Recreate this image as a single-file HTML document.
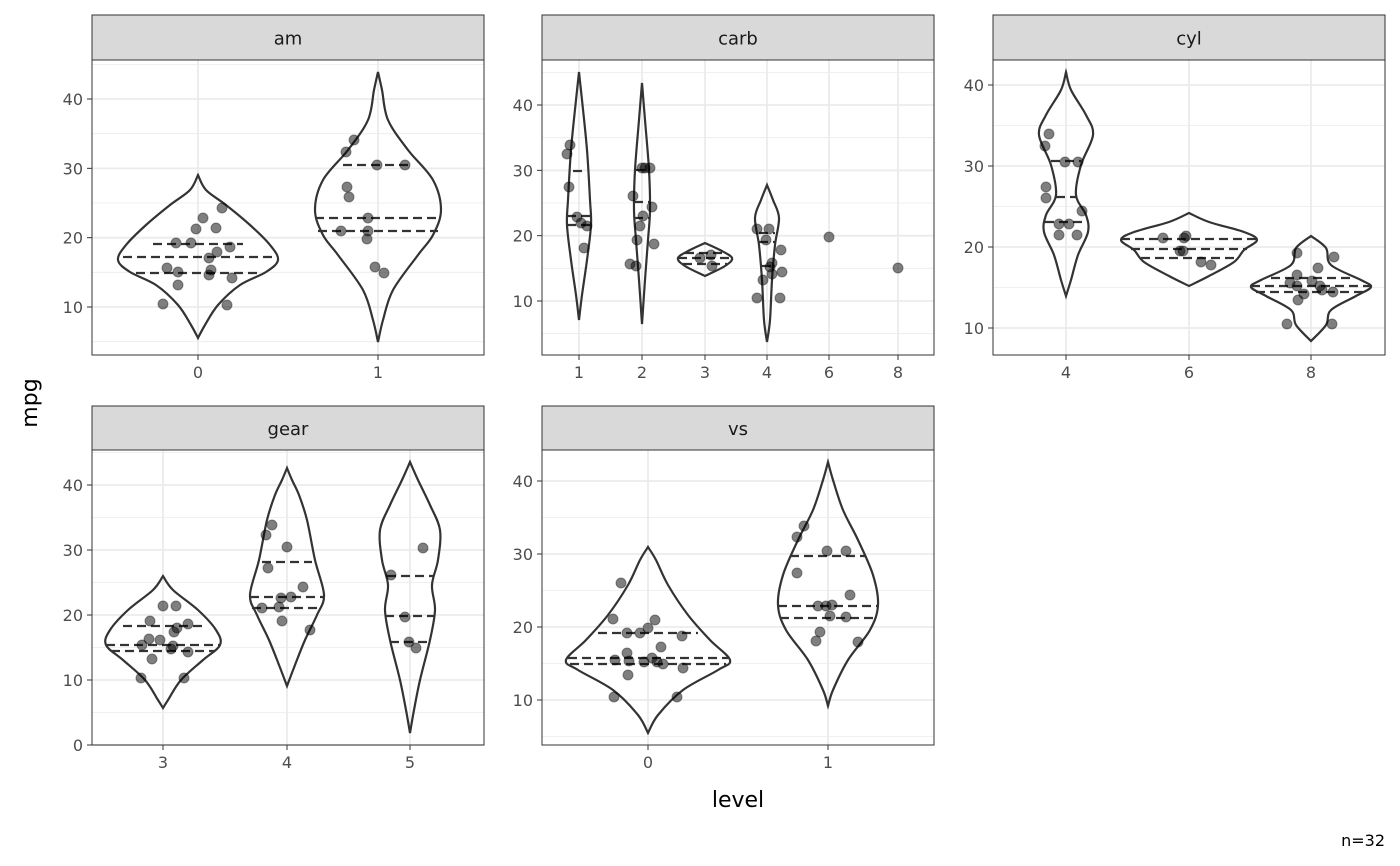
<!DOCTYPE html>
<html><head><meta charset="utf-8"><style>
body{margin:0;background:#fff;}
svg{display:block;font-family:"DejaVu Sans","Liberation Sans",sans-serif;}
</style></head><body>
<svg id="s" width="1400" height="866" xmlns="http://www.w3.org/2000/svg"></svg>
<script>
const S=document.getElementById('s');let h='';
function panel(x0,x1,sy0,py0,py1,title,yf,majors,minors,xt){
  h+=`<rect x="${x0}" y="${py0}" width="${x1-x0}" height="${py1-py0}" fill="#fff"/>`;
  minors.forEach(v=>{const y=yf(v);if(y>py0&&y<py1)h+=`<line x1="${x0}" x2="${x1}" y1="${y}" y2="${y}" stroke="#ebebeb" stroke-width="0.8"/>`;});
  majors.forEach(v=>{const y=yf(v);h+=`<line x1="${x0}" x2="${x1}" y1="${y}" y2="${y}" stroke="#ebebeb" stroke-width="1.8"/>`;
    h+=`<line x1="${x0-5}" x2="${x0}" y1="${y}" y2="${y}" stroke="#333" stroke-width="1"/><text x="${x0-9}" y="${y+6}" font-size="16" fill="#4d4d4d" text-anchor="end">${v}</text>`;});
  xt.forEach(([l,x])=>{h+=`<line x1="${x}" x2="${x}" y1="${py0}" y2="${py1}" stroke="#ebebeb" stroke-width="1.8"/>`;
    h+=`<line x1="${x}" x2="${x}" y1="${py1}" y2="${py1+5}" stroke="#333"/><text x="${x}" y="${py1+23}" font-size="16" fill="#4d4d4d" text-anchor="middle">${l}</text>`;});
  h+=`<rect x="${x0}" y="${sy0}" width="${x1-x0}" height="${py0-sy0}" fill="#d9d9d9" stroke="#333" stroke-width="1"/>`;
  h+=`<text x="${(x0+x1)/2}" y="${(sy0+py0)/2+7}" font-size="18" fill="#1a1a1a" text-anchor="middle">${title}</text>`;
}
function smooth(pts){let d=`M${pts[0][0]},${pts[0][1]}`;
  for(let i=0;i<pts.length-1;i++){const p0=pts[Math.max(i-1,0)],p1=pts[i],p2=pts[i+1],p3=pts[Math.min(i+2,pts.length-1)];
    d+=` C${p1[0]+(p2[0]-p0[0])/6},${p1[1]+(p2[1]-p0[1])/6} ${p2[0]-(p3[0]-p1[0])/6},${p2[1]-(p3[1]-p1[1])/6} ${p2[0]},${p2[1]}`;}
  return d;}
function violin(cx,spec,q){
  const r=spec.map(([y,w])=>[cx+w,y]);const l=spec.slice().reverse().map(([y,w])=>[cx-w,y]);
  h+=`<path d="${smooth(r)} ${smooth(l).replace('M','L')} Z" fill="none" stroke="#333" stroke-width="2.2"/>`;
  q.forEach(([y,w])=>{h+=`<line x1="${cx-w}" x2="${cx+w}" y1="${y}" y2="${y}" stroke="#333" stroke-width="2.2" stroke-dasharray="9,5"/>`;});
}
function pts(a){a.forEach(([x,y])=>h+=`<circle cx="${x}" cy="${y}" r="5" fill="#000" fill-opacity="0.5" stroke="#000" stroke-opacity="0.4"/>`);}
const mj=[10,20,30,40],mn=[5,15,25,35,45];
const am=v=>307-(v-10)*6.933,cb=v=>301-(v-10)*6.533,cy=v=>328-(v-10)*8.1,gr=v=>745-v*6.5,vs=v=>700-(v-10)*7.3;
panel(92,484,15,60,355,'am',am,mj,mn,[['0',198],['1',378]]);
panel(542,934,15,60,355,'carb',cb,mj,mn,[['1',579],['2',642],['3',705],['4',767],['6',829],['8',898]]);
panel(993,1385,15,60,355,'cyl',cy,mj,mn,[['4',1066],['6',1189],['8',1311]]);
panel(92,484,406,450,745,'gear',gr,[0,10,20,30,40],mn,[['3',163],['4',287],['5',410]]);
panel(542,934,406,450,745,'vs',vs,mj,mn,[['0',648],['1',828]]);
violin(198,[[175,0],[190,8],[205,28],[225,52],[245,72],[260,80],[272,68],[285,42],[305,20],[325,7],[338,0]],[[244,45],[257,75],[273,62]]);
violin(378,[[72,0],[90,4],[120,10],[150,30],[180,55],[210,63],[235,55],[255,40],[290,15],[320,5],[342,0]],[[165,35],[218,63],[231,60]]);
violin(579,[[72,0],[100,3],[150,8],[200,11],[225,12],[260,8],[295,3],[320,0]],[[171,6],[216,12],[225,12]]);
violin(642,[[83,0],[120,3],[170,7],[210,8],[240,6],[280,3],[324,0]],[[170,6],[202,8],[218,8]]);
violin(705,[[243,0],[250,15],[258,27],[266,20],[276,0]],[[253,20],[258,27],[264,22]]);
violin(767,[[185,0],[200,6],[218,12],[245,8],[280,5],[320,3],[342,0]],[[233,8],[242,8],[266,5]]);
violin(1066,[[72,0],[90,5],[115,20],[135,27],[165,15],[195,10],[215,20],[232,22],[255,12],[280,5],[296,0]],[[161,15],[197,10],[222,21]]);
violin(1189,[[213,0],[222,20],[232,55],[240,68],[250,55],[262,45],[276,20],[286,0]],[[239,68],[249,58],[258,48]]);
violin(1311,[[236,0],[248,15],[265,20],[280,50],[287,60],[296,45],[310,20],[325,15],[341,0]],[[278,40],[286,60],[292,55]]);
violin(163,[[576,0],[590,10],[610,35],[630,53],[645,57],[660,40],[680,18],[700,5],[708,0]],[[626,40],[645,57],[651,52]]);
violin(287,[[468,0],[480,5],[495,12],[520,20],[560,28],[595,37],[615,30],[640,18],[665,8],[686,0]],[[562,25],[597,37],[608,35]]);
violin(410,[[462,0],[480,8],[505,20],[530,30],[560,28],[585,22],[610,25],[640,20],[680,10],[710,4],[733,0]],[[576,23],[616,25],[642,20]]);
violin(648,[[547,0],[560,8],[585,20],[615,40],[640,62],[660,82],[670,70],[690,35],[715,10],[733,0]],[[633,50],[658,80],[664,78]]);
violin(828,[[462,0],[480,5],[510,15],[540,30],[575,45],[605,50],[630,42],[660,20],[690,5],[706,0]],[[556,38],[606,50],[618,48]]);
pts([[222,208],[203,218],[196,229],[216,228],[176,243],[191,243],[230,247],[217,252],[209,258],[167,268],[178,272],[211,270],[232,278],[209,275],[178,285],[163,304],[227,305]]);
pts([[354,140],[346,152],[347,187],[349,197],[341,231],[368,218],[368,231],[367,239],[405,165],[377,165],[375,267],[384,273]]);
pts([[570,145],[567,154],[569,187],[577,217],[581,223],[587,226],[584,248],[642,168],[645,168],[650,168],[633,196],[640,226],[643,216],[652,207],[654,244],[637,240],[630,264],[636,266],[700,258],[711,255],[712,266],[757,229],[769,229],[766,240],[781,250],[772,263],[763,280],[770,267],[772,274],[782,272],[757,298],[780,298],[829,237],[898,268]]);
pts([[1049,134],[1045,146],[1065,162],[1078,162],[1046,187],[1046,198],[1059,224],[1069,224],[1082,211],[1059,235],[1077,235],[1163,238],[1184,238],[1186,236],[1183,251],[1180,251],[1201,262],[1211,265],[1297,253],[1334,257],[1318,268],[1297,275],[1290,283],[1312,281],[1297,286],[1320,286],[1322,290],[1304,294],[1333,292],[1298,300],[1287,324],[1332,324]]);
pts([[150,621],[163,606],[176,606],[177,628],[174,632],[188,624],[149,639],[160,640],[142,645],[173,646],[171,649],[188,652],[152,659],[141,678],[184,678],[266,535],[272,525],[287,547],[268,568],[303,587],[262,608],[281,598],[291,597],[279,607],[282,621],[310,630],[391,575],[405,617],[423,548],[409,642],[416,648]]);
pts([[621,583],[613,619],[627,633],[640,633],[655,620],[648,628],[682,636],[627,653],[615,660],[629,661],[644,662],[661,647],[652,658],[657,662],[663,664],[683,668],[628,675],[614,697],[677,697],[797,537],[804,526],[797,573],[827,551],[846,551],[818,606],[826,606],[832,605],[850,595],[820,632],[846,617],[830,616],[816,641],[858,642]]);
[[92,60,392,295],[542,60,392,295],[993,60,392,295],[92,450,392,295],[542,450,392,295]].forEach(([x,y,w,hh])=>h+=`<rect x="${x}" y="${y}" width="${w}" height="${hh}" fill="none" stroke="#333" stroke-width="1"/>`);
h+=`<text transform="translate(37,403) rotate(-90)" font-size="22" fill="#000" text-anchor="middle">mpg</text>`;
h+=`<text x="738" y="807" font-size="22" fill="#000" text-anchor="middle">level</text>`;
h+=`<text x="1385" y="846" font-size="16" fill="#000" text-anchor="end">n=32</text>`;
S.innerHTML=h;
</script>
</body></html>
